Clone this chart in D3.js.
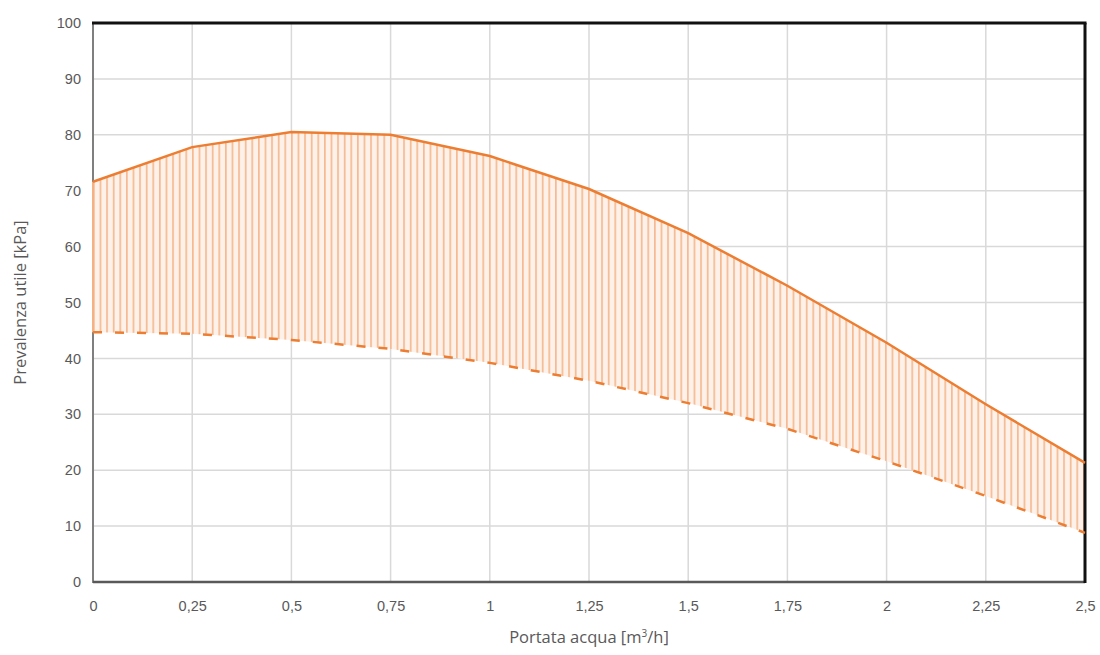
<!DOCTYPE html>
<html>
<head>
<meta charset="utf-8">
<script src="https://cdn.jsdelivr.net/npm/d3@7"></script>
<style>
  html, body { margin: 0; padding: 0; background: #fff; }
  svg { display: block; font-family: "Open Sans", "Liberation Sans", sans-serif; }
</style>
</head>
<body>
<svg id="chart" width="1100" height="655"></svg>
<script>
const flow = [0, 0.25, 0.5, 0.75, 1, 1.25, 1.5, 1.75, 2, 2.25, 2.5];
const headMax = [71.6, 77.8, 80.5, 80.0, 76.2, 70.3, 62.4, 53.0, 42.8, 31.8, 21.3];
const headMin = [44.7, 44.4, 43.3, 41.7, 39.2, 36.0, 32.0, 27.4, 21.6, 15.4, 8.8];
const xTickLabels = ["0", "0,25", "0,5", "0,75", "1", "1,25", "1,5", "1,75", "2", "2,25", "2,5"];
const yTicks = [0, 10, 20, 30, 40, 50, 60, 70, 80, 90, 100];

const svg = d3.select("#chart");
const m = { left: 93, right: 1085, top: 23, bottom: 582 };
const x = d3.scaleLinear().domain([0, 2.5]).range([m.left, m.right]);
const y = d3.scaleLinear().domain([0, 100]).range([m.bottom, m.top]);

const textColor = "#595959";
const orange = "#ED7D31";

// hatch pattern
const defs = svg.append("defs");
const pat = defs.append("pattern")
  .attr("id", "hatch").attr("patternUnits", "userSpaceOnUse")
  .attr("x", m.left).attr("y", 0)
  .attr("width", 6.6).attr("height", 10);
pat.append("rect").attr("x", 0).attr("y", 0).attr("width", 6.6).attr("height", 10)
  .attr("fill", "#FDF1E9");
pat.append("rect").attr("x", 0).attr("y", 0).attr("width", 1.7).attr("height", 10)
  .attr("fill", "#F4B183").attr("opacity", 0.85);

// gridlines
const g = svg.append("g");
g.selectAll(".hg").data(yTicks.filter(d => d > 0 && d < 100)).join("line")
  .attr("x1", m.left).attr("x2", m.right)
  .attr("y1", d => y(d)).attr("y2", d => y(d))
  .attr("stroke", "#d9d9d9").attr("stroke-width", 1.5);
g.selectAll(".vg").data(flow.filter(d => d > 0 && d < 2.5)).join("line")
  .attr("y1", m.top).attr("y2", m.bottom)
  .attr("x1", d => x(d)).attr("x2", d => x(d))
  .attr("stroke", "#d9d9d9").attr("stroke-width", 1.5);

const data = flow.map((f, i) => ({ f, hi: headMax[i], lo: headMin[i] }));

// hatched area
svg.append("path").datum(data)
  .attr("d", d3.area().x(d => x(d.f)).y0(d => y(d.lo)).y1(d => y(d.hi)))
  .attr("fill", "url(#hatch)");

// frame: left & bottom gray, top & right black
svg.append("line").attr("x1", m.left).attr("x2", m.left).attr("y1", m.top).attr("y2", m.bottom + 1)
  .attr("stroke", "#7f7f7f").attr("stroke-width", 2);
svg.append("line").attr("x1", m.left).attr("x2", m.right).attr("y1", m.bottom).attr("y2", m.bottom)
  .attr("stroke", "#595959").attr("stroke-width", 2.5);
svg.append("line").attr("x1", m.left - 1).attr("x2", m.right + 1.5).attr("y1", m.top).attr("y2", m.top)
  .attr("stroke", "#111").attr("stroke-width", 3);
svg.append("line").attr("x1", m.right).attr("x2", m.right).attr("y1", m.top).attr("y2", m.bottom + 1)
  .attr("stroke", "#111").attr("stroke-width", 3);

// left edge hatch line overlay (orange at x=0 between curves)
svg.append("line").attr("x1", x(0)).attr("x2", x(0)).attr("y1", y(headMax[0])).attr("y2", y(headMin[0]))
  .attr("stroke", "#F4B183").attr("stroke-width", 2);

// lines
svg.append("path").datum(data)
  .attr("d", d3.line().x(d => x(d.f)).y(d => y(d.hi)))
  .attr("fill", "none").attr("stroke", orange).attr("stroke-width", 2.5);
svg.append("path").datum(data)
  .attr("d", d3.line().x(d => x(d.f)).y(d => y(d.lo)))
  .attr("fill", "none").attr("stroke", orange).attr("stroke-width", 2.5)
  .attr("stroke-dasharray", "9,13");

// axes labels
const xAxis = d3.axisBottom(x).tickValues(flow).tickFormat((d, i) => xTickLabels[i]).tickSize(0).tickPadding(0);
const xg = svg.append("g").attr("transform", `translate(0,${m.bottom + 29})`).call(xAxis);
xg.select(".domain").remove();
xg.selectAll("text").attr("fill", textColor).attr("font-size", 14.5).attr("dy", "0");

const yAxis = d3.axisLeft(y).tickValues(yTicks).tickSize(0).tickPadding(0);
const yg = svg.append("g").attr("transform", `translate(${m.left - 12},0)`).call(yAxis);
yg.select(".domain").remove();
yg.selectAll("text").attr("fill", textColor).attr("font-size", 14.5);

svg.append("text").attr("x", (m.left + m.right) / 2).attr("y", 643)
  .attr("text-anchor", "middle").attr("fill", textColor).attr("font-size", 16.5)
  .html('Portata acqua [m<tspan font-size="10" dy="-6">3</tspan><tspan dy="6">/h]</tspan>');

svg.append("text").attr("transform", `translate(26,${(m.top + m.bottom) / 2}) rotate(-90)`)
  .attr("text-anchor", "middle").attr("fill", textColor).attr("font-size", 16.5)
  .text("Prevalenza utile [kPa]");
</script>
</body>
</html>
